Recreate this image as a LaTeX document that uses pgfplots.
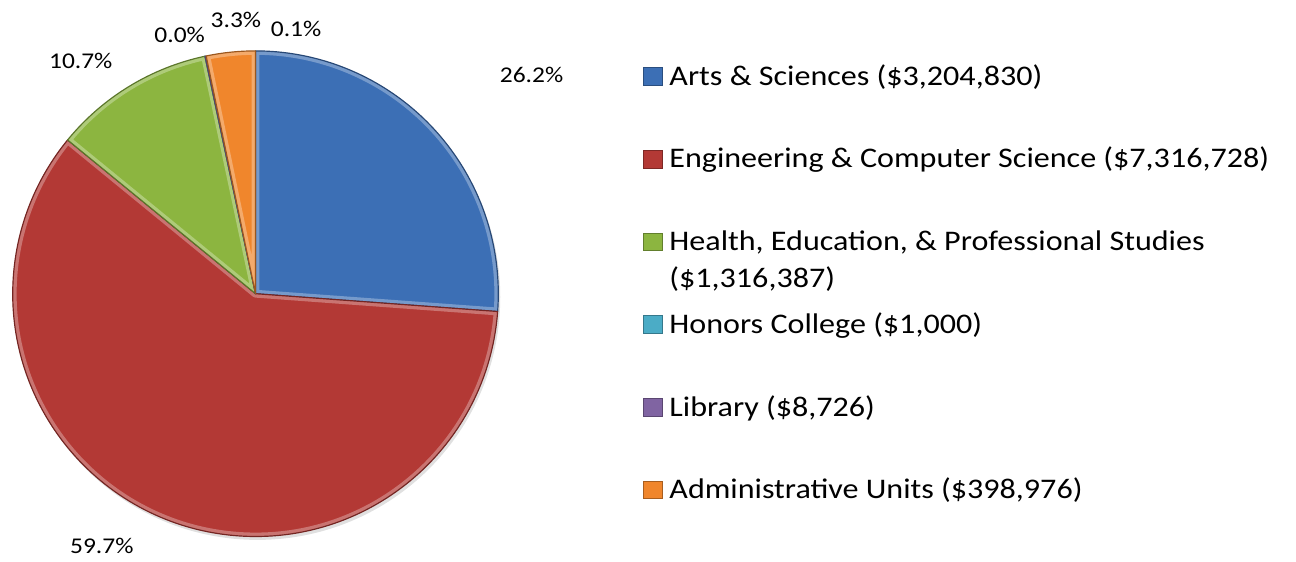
\documentclass[border=0pt]{standalone}
\usepackage{fontspec}
\setmainfont{Carlito}[FakeStretch=1.13]
\usepackage{pgfplots}
\usepackage{pgfplotstable}
\pgfplotsset{compat=1.18}

\definecolor{c0}{RGB}{60,111,181}
\definecolor{c1}{RGB}{179,57,53}
\definecolor{c2}{RGB}{140,181,64}
\definecolor{c3}{RGB}{75,172,198}
\definecolor{c4}{RGB}{128,100,162}
\definecolor{c5}{RGB}{240,134,44}

\tikzset{lbl/.style={font=\fontsize{11.5pt}{13pt}\selectfont, anchor=base, inner sep=0pt}}

% budget in thousands of dollars, slices run clockwise from 12 o'clock
\pgfplotstableread{
unit value
Arts 3204.830
Eng 7316.728
Health 1316.387
Honors 1.000
Library 8.726
Admin 398.976
}\budget

\begin{document}
\begin{tikzpicture}
\def\total{0}
\foreach \i in {0,...,5}{
  \pgfplotstablegetelem{\i}{value}\of\budget
  \pgfmathsetmacro\tmpsum{\total+\pgfplotsretval}
  \xdef\total{\tmpsum}
}
\gdef\cum{0}
\gdef\slices{}
\foreach \i in {0,...,5}{
  \pgfplotstablegetelem{\i}{value}\of\budget
  \pgfmathsetmacro\sa{90-360*(\cum/\total)}
  \pgfmathsetmacro\nx{\cum+\pgfplotsretval}
  \pgfmathsetmacro\sb{90-360*(\nx/\total)}
  \xdef\cum{\nx}
  \edef\wedge{(axis cs:0,0) -- (axis cs:{cos(\sa)},{sin(\sa)})
    arc[start angle=\sa,end angle=\sb,radius=124pt] -- cycle}
  \xdef\slices{\unexpanded\expandafter{\slices}%
    \noexpand\fill[c\i] \wedge;
    \noexpand\begin{scope}
      \noexpand\clip \wedge;
      \noexpand\draw[white,opacity=0.3,line width=4pt,line join=round] \wedge;
    \noexpand\end{scope}
    \noexpand\draw[c\i!65!black,line width=0.6pt,line join=round] \wedge;}
}
\begin{axis}[
  at={(0,0)}, anchor=center,
  scale only axis, width=248pt, height=248pt,
  xmin=-1, xmax=1, ymin=-1, ymax=1,
  hide axis, clip=false,
  legend style={
    at={(axis cs:1.5968,0.9395)}, anchor=north west,
    draw=none, fill=none, inner sep=0pt, outer sep=0pt,
    row sep=0pt, column sep=3.5pt,
    cells={anchor=base west},
    nodes={inner sep=0pt, text height=10pt, text depth=32.25pt},
    font=\fontsize{14.5pt}{17.7pt}\selectfont,
  },
  legend image code/.code={\filldraw[#1] (0pt,0pt) rectangle (9.5pt,9pt);},
]
\fill[black!12] (axis cs:0.008,-0.014) circle[radius=124pt];
\slices

\addlegendimage{fill=c0,draw=c0!70!black}
\addlegendentry{Arts \& Sciences (\$3,204,830)}
\addlegendimage{fill=c1,draw=c1!70!black}
\addlegendentry{Engineering \& Computer Science (\$7,316,728)}
\addlegendimage{fill=c2,draw=c2!70!black}
\addlegendentry{\parbox[t]{320pt}{\baselineskip=19pt Health, Education, \& Professional Studies\\(\$1,316,387)}}
\addlegendimage{fill=c3,draw=c3!70!black}
\addlegendentry{Honors College (\$1,000)}
\addlegendimage{fill=c4,draw=c4!70!black}
\addlegendentry{Library (\$8,726)}
\addlegendimage{fill=c5,draw=c5!70!black}
\addlegendentry{Administrative Units (\$398,976)}

% data labels
\node[lbl] at (axis cs:1.137,0.871) {26.2\%};
\node[lbl] at (axis cs:-0.633,-1.0685) {59.7\%};
\node[lbl] at (axis cs:-0.7198,0.9274) {10.7\%};
\node[lbl] at (axis cs:-0.3125,1.0363) {0.0\%};
\node[lbl] at (axis cs:0.1673,1.0605) {0.1\%};
\node[lbl] at (axis cs:-0.0806,1.0968) {3.3\%};
\end{axis}
\useasboundingbox (-130.5pt,-136.5pt) rectangle (517.5pt,150pt);
\end{tikzpicture}
\end{document}
